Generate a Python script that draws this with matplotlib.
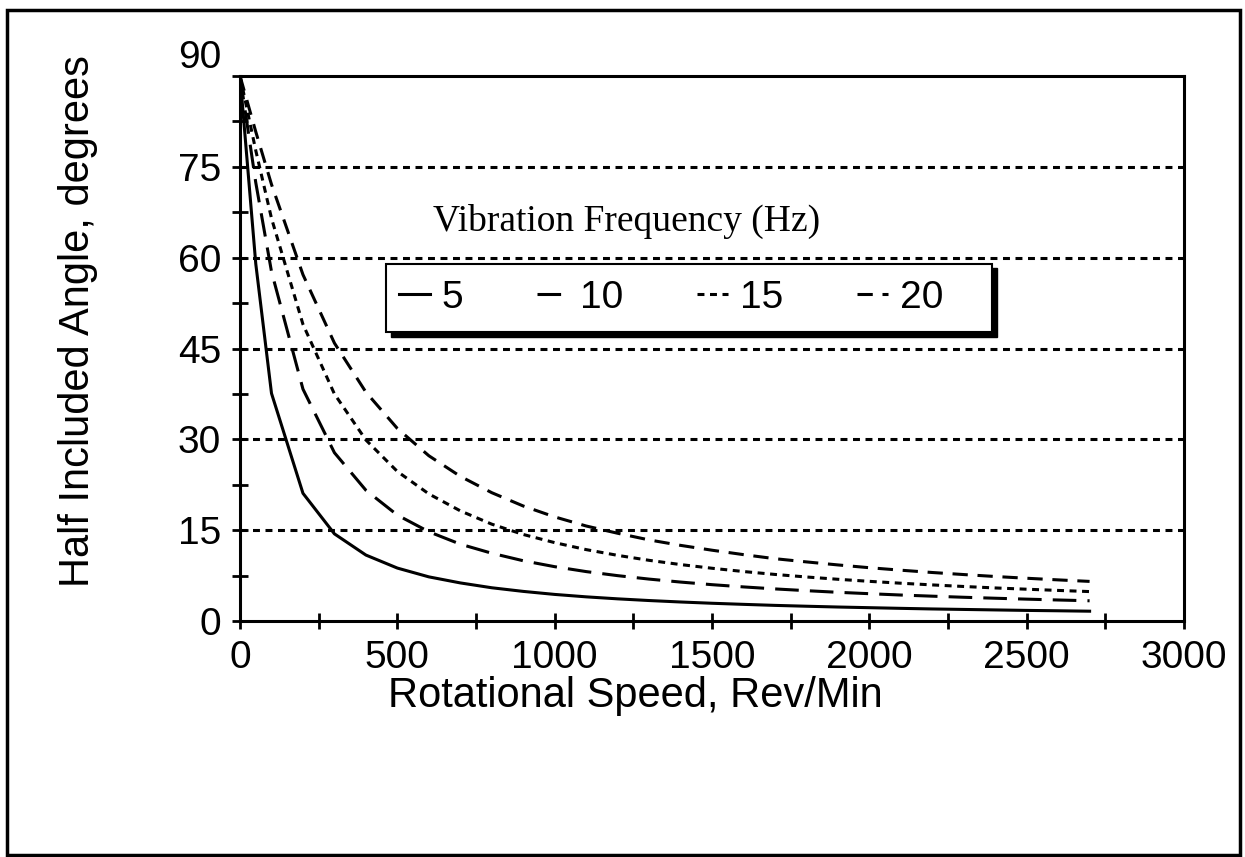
import numpy as np
import matplotlib
matplotlib.use("Agg")
import matplotlib.pyplot as plt
from matplotlib.patches import Rectangle
from matplotlib.ticker import MultipleLocator

plt.rcParams['font.family'] = ['Liberation Sans', 'DejaVu Sans']
plt.rcParams['lines.scale_dashes'] = False

# rotational speed, rev/min
rpm = [0, 50, 100, 200, 300, 400, 500, 600, 700, 800, 900, 1000, 1100, 1200,
       1300, 1400, 1500, 1600, 1700, 1800, 1900, 2000, 2100, 2200, 2300,
       2400, 2500, 2600, 2700]

# half included angle (degrees)
hz5 = [90, 59, 37.6, 21.1, 14.4, 10.9, 8.75, 7.3, 6.3, 5.5, 4.9, 4.4, 4.0, 3.67,
       3.39, 3.15, 2.94, 2.76, 2.59, 2.45, 2.32, 2.21, 2.10, 2.00, 1.92,
       1.84, 1.76, 1.70, 1.63]
hz10 = [90, 72.4, 57.7, 38.3, 27.8, 21.6, 17.5, 14.75, 12.7, 11.2, 9.96, 8.98,
        8.17, 7.5, 6.93, 6.44, 6.01, 5.64, 5.31, 5.02, 4.75, 4.52, 4.30,
        4.11, 3.93, 3.77, 3.62, 3.48, 3.35]
hz15 = [90, 77.7, 66.5, 49.0, 37.5, 29.9, 24.7, 21.0, 18.2, 16.0, 14.3, 12.95,
        11.8, 10.85, 10.03, 9.33, 8.72, 8.18, 7.70, 7.28, 6.90, 6.56, 6.25,
        5.97, 5.71, 5.47, 5.26, 5.06, 4.87]
hz20 = [90, 80.8, 72.1, 57.2, 45.9, 37.8, 31.8, 27.3, 23.9, 21.2, 19.0, 17.2,
        15.7, 14.5, 13.4, 12.5, 11.7, 10.97, 10.3, 9.77, 9.27, 8.81, 8.40,
        8.02, 7.68, 7.36, 7.07, 6.80, 6.55]

labels = ['5', '10', '15', '20']

fig = plt.figure(figsize=(12.45, 8.57), dpi=100)
ax = fig.add_axes([0.1928, 0.2753, 0.7582, 0.6360])

lw = 2.2
ax.plot(rpm, hz5, color='k', lw=lw, label=labels[0])
ax.plot(rpm, hz10, color='k', lw=lw, dashes=(17, 8), label=labels[1])
ax.plot(rpm, hz15, color='k', lw=lw, dashes=(5, 4), label=labels[2])
ax.plot(rpm, hz20, color='k', lw=lw, dashes=(11, 7), label=labels[3])

ax.set_xlim(0, 3000)
ax.set_ylim(0, 90)
ax.xaxis.set_major_locator(MultipleLocator(500))
ax.xaxis.set_minor_locator(MultipleLocator(250))
ax.yaxis.set_major_locator(MultipleLocator(15))
ax.yaxis.set_minor_locator(MultipleLocator(7.5))
ax.tick_params(which='both', direction='inout', length=11, width=2,
               labelsize=28, pad=8)
for s in ax.spines.values():
    s.set_linewidth(2.2)

# the top label sits above the frame in the original
fig.canvas.draw()
for t in ax.yaxis.get_major_ticks():
    if abs(t.get_loc() - 90) < 1e-6:
        t.label1.set_va('bottom')

for yv in [15, 30, 45, 60, 75]:
    ax.axhline(yv, color='k', lw=2.2, dashes=(5, 4), zorder=3)

ax.set_xlabel('Rotational Speed, Rev/Min', fontsize=30)
ax.xaxis.set_label_coords(0.419, -0.100)
ax.set_ylabel('Half Included Angle, degrees', fontsize=30)
ax.yaxis.set_label_coords(-0.150, 0.55)

ax.text(0.41, 0.733, 'Vibration Frequency (Hz)', transform=ax.transAxes,
        ha='center', va='center', fontsize=27, family='Liberation Serif')

# legend box with a solid drop shadow
bx, by, bw, bh = 0.155, 0.530, 0.642, 0.126
ax.add_patch(Rectangle((bx + 0.005, by - 0.008), bw, bh, transform=ax.transAxes,
                       facecolor='k', edgecolor='k', zorder=2.4))
ax.add_patch(Rectangle((bx, by), bw, bh, transform=ax.transAxes,
                       facecolor='white', edgecolor='k', lw=1.5, zorder=2.5))

leg = ax.legend(ncol=4, loc='center left', bbox_to_anchor=(0.168, 0.593),
                fontsize=28, handlelength=0.8, handletextpad=0.3,
                columnspacing=1.9, frameon=False, borderpad=0, borderaxespad=0)
leg.set_zorder(5)

fig.patches.append(Rectangle((0.0056, 0.0023), 0.990, 0.986, transform=fig.transFigure,
                             fill=False, edgecolor='k', lw=2.5))

fig.savefig('out.png', dpi=100)
